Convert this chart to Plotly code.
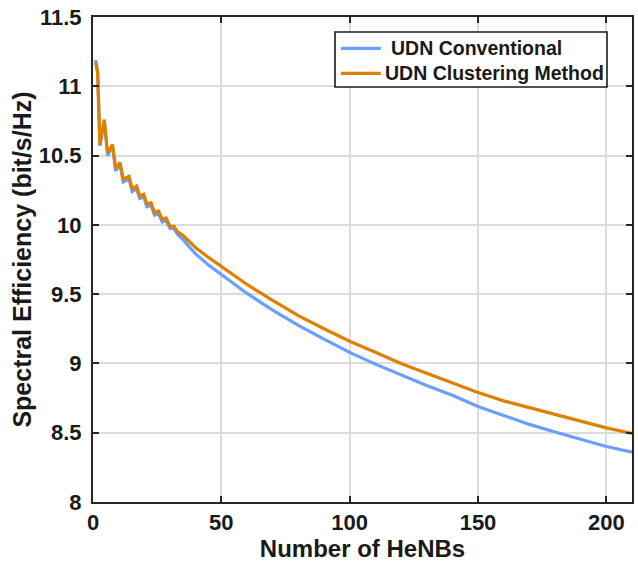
import plotly.graph_objects as go

# Number of HeNBs (early part follows the ripples)
henbs = [1, 1.8, 2.7, 4.4, 5.7, 7.6, 8.8, 10.5, 11.8, 14, 15.3, 17, 18.2, 19.8, 21,
         22.6, 24, 25.5, 27, 28.5, 30, 31.5, 33, 35, 37.5, 40, 45, 50, 60, 70, 80, 90,
         100, 110, 120, 130, 140, 150, 160, 170, 180, 190, 200, 210]

se_conventional = [11.19, 11.11, 10.57, 10.75, 10.50, 10.57, 10.39, 10.44, 10.31, 10.33,
                   10.24, 10.26, 10.19, 10.20, 10.13, 10.14, 10.07, 10.08, 10.02, 10.03,
                   9.975, 9.975, 9.93, 9.895, 9.84, 9.79, 9.71, 9.64, 9.505, 9.385, 9.275,
                   9.175, 9.08, 8.995, 8.915, 8.84, 8.77, 8.69, 8.625, 8.56, 8.505,
                   8.45, 8.40, 8.36]

se_clustering = [11.17, 11.10, 10.58, 10.76, 10.52, 10.58, 10.41, 10.45, 10.33, 10.35,
                 10.26, 10.28, 10.21, 10.22, 10.15, 10.16, 10.09, 10.10, 10.04, 10.05,
                 9.99, 9.99, 9.95, 9.925, 9.88, 9.835, 9.765, 9.70, 9.57, 9.455, 9.345,
                 9.25, 9.16, 9.08, 9.00, 8.93, 8.86, 8.79, 8.73, 8.68, 8.63,
                 8.58, 8.535, 8.495]

series_names = ["UDN Conventional", "UDN Clustering Method"]
series_colors = ["#6A9EFF", "#DF8000"]
x_ticks = [0, 50, 100, 150, 200]
y_ticks = [8, 8.5, 9, 9.5, 10, 10.5, 11, 11.5]
y_tick_labels = ["8", "8.5", "9", "9.5", "10", "10.5", "11", "11.5"]

FONT = "Liberation Sans, Arial, Helvetica, sans-serif"
TXT = "#1a1a1a"
AX = "#262626"

fig = go.Figure()
for ys, name, col in zip([se_conventional, se_clustering], series_names, series_colors):
    fig.add_trace(go.Scatter(x=henbs, y=ys, mode="lines", name=name, showlegend=False,
                             line=dict(color=col, width=3.2)))

axis_common = dict(
    showline=True, linecolor=AX, linewidth=2, mirror="ticks",
    ticks="inside", ticklen=6, tickwidth=2, tickcolor=AX,
    showgrid=True, gridcolor="#dcdcdc", gridwidth=1.5, zeroline=False,
    automargin=False, ticklabeloverflow="allow",
    tickfont=dict(family=FONT, size=22, color=TXT, weight="bold"),
)

fig.update_xaxes(range=[0, 210], tickvals=x_ticks,
                 title=dict(text="Number of HeNBs", standoff=6,
                            font=dict(family=FONT, size=24, color=TXT, weight="bold")),
                 **axis_common)
fig.update_yaxes(range=[8, 11.5], tickvals=y_ticks, ticktext=y_tick_labels,
                 ticklabelstandoff=5,
                 title=dict(text="Spectral Efficiency (bit/s/Hz)", standoff=0,
                            font=dict(family=FONT, size=25, color=TXT, weight="bold")),
                 **axis_common)

# Legend box drawn in paper coordinates (MATLAB-style compact legend)
box_x0, box_x1, box_y0, box_y1 = 0.449, 0.9536, 0.8557, 0.969
row_y = [0.9355, 0.8839]
text_x = [0.549, 0.538]
fig.add_shape(type="rect", xref="paper", yref="paper", x0=box_x0, x1=box_x1,
              y0=box_y0, y1=box_y1, fillcolor="white",
              line=dict(color="#1a1a1a", width=1.6), layer="above")
for i, (name, col) in enumerate(zip(series_names, series_colors)):
    fig.add_shape(type="line", xref="paper", yref="paper", x0=0.460, x1=0.534,
                  y0=row_y[i], y1=row_y[i], line=dict(color=col, width=3.2), layer="above")
    fig.add_annotation(x=text_x[i], y=row_y[i], xref="paper", yref="paper",
                       text=name, showarrow=False, xanchor="left", yanchor="middle",
                       font=dict(family=FONT, size=19.5, color=TXT, weight="bold"))

fig.update_layout(
    width=638, height=566,
    margin=dict(l=93, r=6, t=17, b=64),
    plot_bgcolor="white", paper_bgcolor="white",
    showlegend=False,
)

# remove the default page margin so the figure sits at the window's top-left corner
fig.write_html("out.html", config={"displayModeBar": False},
               post_script="document.body.style.margin='0';document.body.style.overflow='hidden';")
